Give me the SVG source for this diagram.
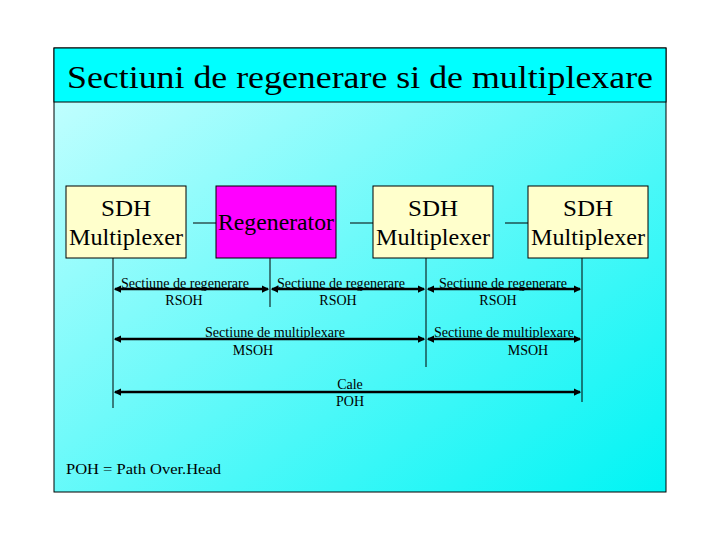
<svg xmlns="http://www.w3.org/2000/svg" width="720" height="540" viewBox="0 0 720 540">
<defs>
<linearGradient id="bg" x1="0" y1="0" x2="1" y2="1">
<stop offset="0" stop-color="#ccffff"/><stop offset="1" stop-color="#00f4f4"/>
</linearGradient>
<marker id="ah" viewBox="0 0 6 6" refX="5" refY="3" markerWidth="3" markerHeight="3" orient="auto-start-reverse"><path d="M0,0L6,3L0,6z" fill="#000"/></marker>
<style>
text{font-family:"Liberation Serif",serif;fill:#000}
.box{fill:#ffffcc;stroke:#000;stroke-width:1}
.bt{font-size:23px;text-anchor:middle}
.sm{font-size:14px;text-anchor:middle}
.ln{stroke:#000;stroke-width:1;fill:none}
.ar{stroke:#000;stroke-width:2.5;marker-start:url(#ah);marker-end:url(#ah)}
</style>
</defs>
<rect width="720" height="540" fill="#fff"/>
<rect x="54" y="48" width="612" height="444" fill="url(#bg)" stroke="#000"/>
<rect x="54" y="48" width="612" height="54" fill="#00ffff" stroke="#000"/>
<text x="67" y="88" font-size="32" textLength="586" lengthAdjust="spacingAndGlyphs">Sectiuni de regenerare si de multiplexare</text>
<g id="n1"><rect class="box" x="66" y="186" width="120" height="72"/><text class="bt" x="126" y="216" textLength="50" lengthAdjust="spacingAndGlyphs">SDH</text><text class="bt" x="126" y="245" textLength="114" lengthAdjust="spacingAndGlyphs">Multiplexer</text></g>
<g id="n2"><rect x="216" y="186" width="120" height="72" fill="#ff00ff" stroke="#000"/><text class="bt" x="276" y="230" textLength="116" lengthAdjust="spacingAndGlyphs">Regenerator</text></g>
<g id="n3"><rect class="box" x="373" y="186" width="120" height="72"/><text class="bt" x="433" y="216" textLength="50" lengthAdjust="spacingAndGlyphs">SDH</text><text class="bt" x="433" y="245" textLength="114" lengthAdjust="spacingAndGlyphs">Multiplexer</text></g>
<g id="n4"><rect class="box" x="528" y="186" width="120" height="72"/><text class="bt" x="588" y="216" textLength="50" lengthAdjust="spacingAndGlyphs">SDH</text><text class="bt" x="588" y="245" textLength="114" lengthAdjust="spacingAndGlyphs">Multiplexer</text></g>
<g id="connectors">
<path class="ln" d="M193 223H216M350 223H373M505 223H528"/>
<path class="ln" d="M113 258V408M270 258V307M426 258V367M582 258V402"/>
<line class="ar" x1="115" y1="289" x2="268" y2="289"/>
<line class="ar" x1="272" y1="289" x2="424" y2="289"/>
<line class="ar" x1="428" y1="289" x2="580" y2="289"/>
<line class="ar" x1="115" y1="339" x2="424" y2="339"/>
<line class="ar" x1="428" y1="339" x2="580" y2="339"/>
<line class="ar" x1="115" y1="392" x2="580" y2="392"/>
</g>
<g id="labels">
<text class="sm" x="185" y="288" textLength="128" lengthAdjust="spacingAndGlyphs">Sectiune de regenerare</text><text class="sm" x="184" y="305">RSOH</text>
<text class="sm" x="341" y="288" textLength="128" lengthAdjust="spacingAndGlyphs">Sectiune de regenerare</text><text class="sm" x="338" y="305">RSOH</text>
<text class="sm" x="503" y="288" textLength="128" lengthAdjust="spacingAndGlyphs">Sectiune de regenerare</text><text class="sm" x="498" y="305">RSOH</text>
<text class="sm" x="275" y="337" textLength="140" lengthAdjust="spacingAndGlyphs">Sectiune de multiplexare</text><text class="sm" x="253" y="355">MSOH</text>
<text class="sm" x="504" y="337" textLength="140" lengthAdjust="spacingAndGlyphs">Sectiune de multiplexare</text><text class="sm" x="528" y="355">MSOH</text>
<text class="sm" x="350" y="389">Cale</text><text class="sm" x="350" y="406">POH</text>
<text x="66" y="474" font-size="14" textLength="155" lengthAdjust="spacingAndGlyphs">POH  =  Path Over.Head</text>
</g>
</svg>
